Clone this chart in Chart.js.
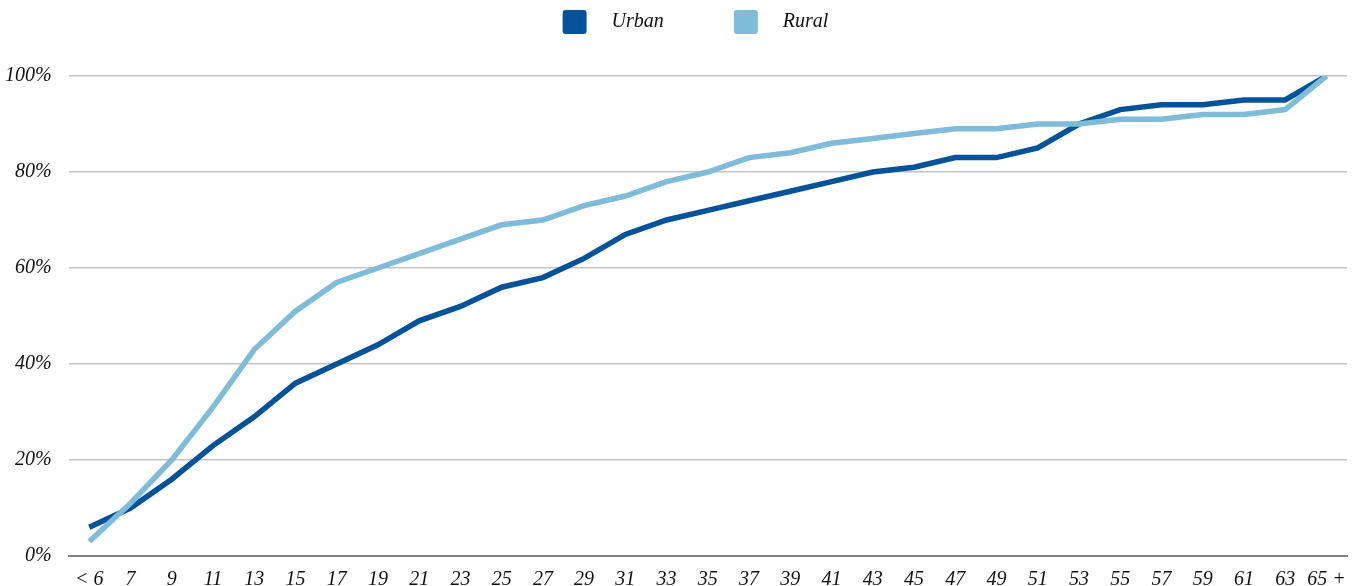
<!DOCTYPE html>
<html>
<head>
<meta charset="utf-8">
<script src="https://cdn.jsdelivr.net/npm/chart.js@4/dist/chart.umd.min.js"></script>
<style>
html,body{margin:0;padding:0;background:#fff;}
#wrap{width:1352px;height:586px;position:relative;}
</style>
</head>
<body>
<div id="wrap"><canvas id="c" width="1352" height="586"></canvas></div>
<script>
const categories = ['< 6','7','9','11','13','15','17','19','21','23','25','27','29','31','33','35','37','39','41','43','45','47','49','51','53','55','57','59','61','63','65 +'];
const urban = [6,10,16,23,29,36,40,44,49,52,56,58,62,67,70,72,74,76,78,80,81,83,83,85,90,93,94,94,95,95,100];
const rural = [3,11,20,31,43,51,57,60,63,66,69,70,73,75,78,80,83,84,86,87,88,89,89,90,90,91,91,92,92,93,100];
const yTicks = [0,20,40,60,80,100];
const seriesNames = ['Urban','Rural'];

const FONT = {family:'"Liberation Serif", serif', style:'italic', size:20};

const legendSpacer = {
  id:'legendSpacer',
  beforeInit(chart){
    const fit = chart.legend.fit;
    chart.legend.fit = function(){ fit.call(this); this.height += 32; };
  },
  afterLayout(chart){
    chart.legend.left += 28;
    chart.legend.right += 28;
  }
};

new Chart(document.getElementById('c'), {
  type:'line',
  data:{
    labels:categories,
    datasets:[
      {label:seriesNames[0], data:urban, borderColor:'#00529b', backgroundColor:'#00529b', borderWidth:5.5, pointRadius:0, tension:0, order:1},
      {label:seriesNames[1], data:rural, borderColor:'#7ebcd9', backgroundColor:'#7ebcd9', borderWidth:5.5, pointRadius:0, tension:0, order:0}
    ]
  },
  plugins:[legendSpacer],
  options:{
    responsive:false,
    animation:false,
    layout:{padding:{left:-12,right:5,top:0,bottom:-18}},
    plugins:{
      tooltip:{enabled:false},
      legend:{
        position:'top',
        labels:{
          font:FONT, color:'#111', boxWidth:24, boxHeight:24, padding:10,
          sort:(a,b)=>a.datasetIndex-b.datasetIndex,
          generateLabels:(chart)=>chart.data.datasets.map((d,i)=>({
            text:'\u2002 '+d.label+(i===0?'\u2003\u2003\u2003':''), fillStyle:d.backgroundColor, strokeStyle:d.backgroundColor,
            lineWidth:0, borderRadius:3, datasetIndex:i, hidden:false, fontColor:'#111'
          }))
        }
      }
    },
    scales:{
      x:{
        offset:true,
        afterFit:(s)=>{ s.paddingRight = 0; },
        grid:{display:false, drawTicks:false},
        border:{display:true, color:'#808080', width:2},
        ticks:{font:FONT, color:'#111', padding:12, maxRotation:0, autoSkip:false}
      },
      y:{
        min:0, max:100,
        afterBuildTicks:(s)=>{s.ticks = yTicks.map(v=>({value:v}));},
        grid:{color:'#c4c4c4', lineWidth:1.5, drawTicks:false},
        border:{display:false},
        ticks:{font:FONT, color:'#111', padding:17, callback:(v)=>v+'%'}
      }
    }
  }
});
</script>
</body>
</html>
